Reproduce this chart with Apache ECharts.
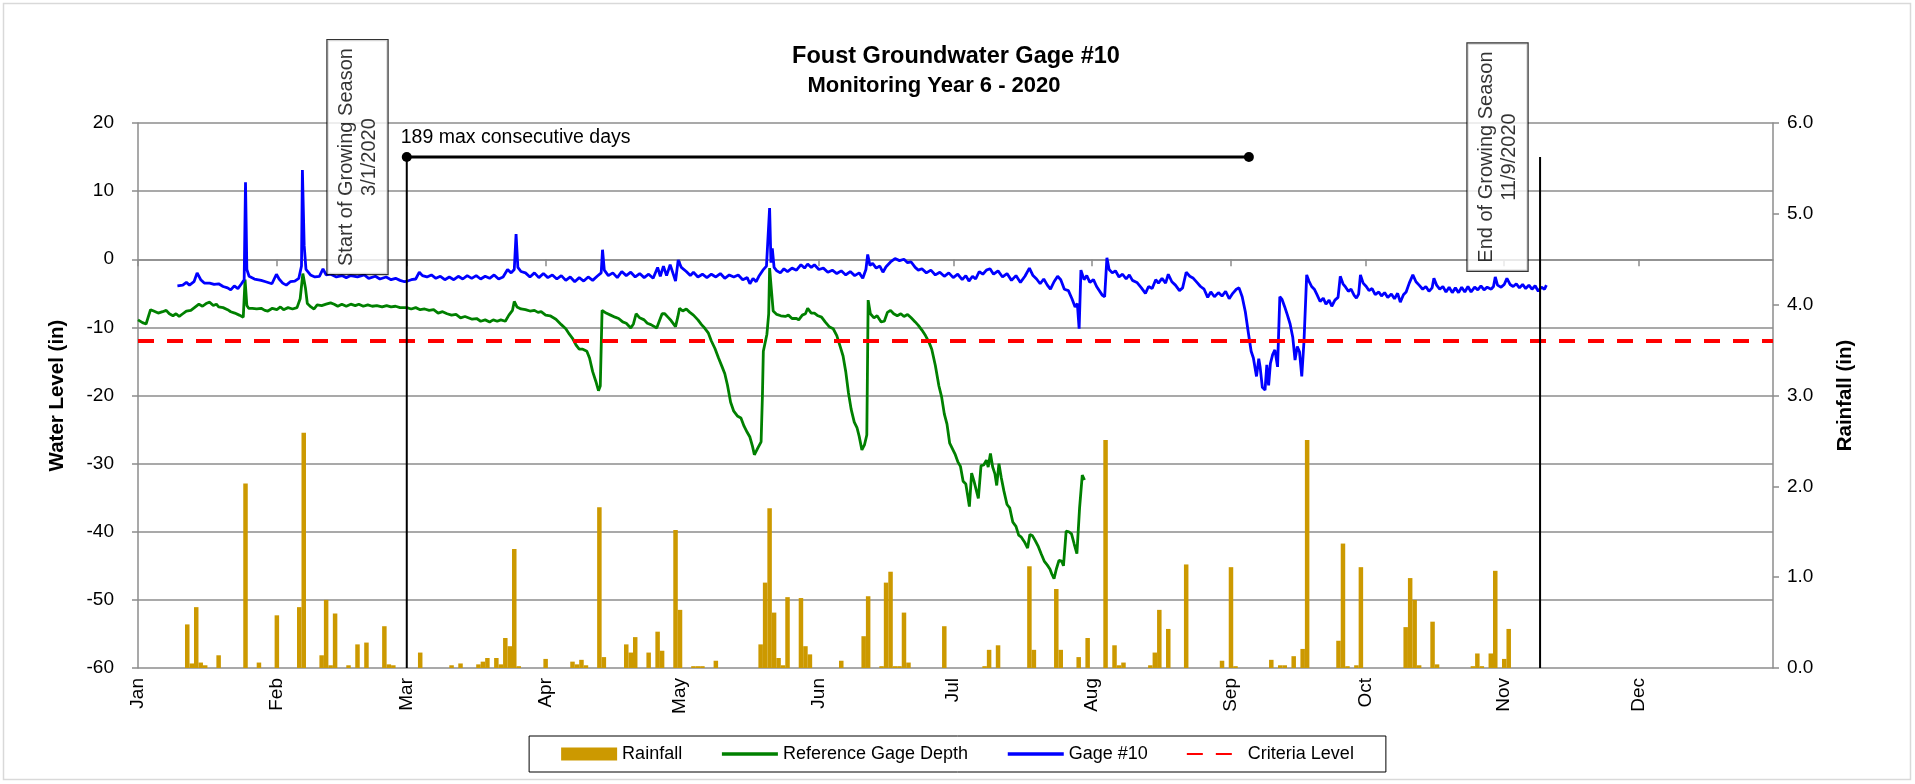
<!DOCTYPE html>
<html>
<head>
<meta charset="utf-8">
<title>Foust Groundwater Gage #10</title>
<script src="https://cdn.jsdelivr.net/npm/echarts@6/dist/echarts.min.js"></script>
<style>
  html, body { margin: 0; padding: 0; background: #fff; }
  #chart1 { width: 1915px; height: 784px; }
</style>
</head>
<body>
<div id="chart1"></div>
<script>
// x values are days counted from 1 Jan 2020 (= day 0), 2020 is a leap year
var monthLabels = ['Jan', 'Feb', 'Mar', 'Apr', 'May', 'Jun', 'Jul', 'Aug', 'Sep', 'Oct', 'Nov', 'Dec'];
var monthStartDays = [0, 31, 60, 91, 121, 152, 182, 213, 244, 274, 305, 335];

// daily rainfall (in)
var rainDays = [11, 12, 13, 14, 15, 18, 24, 27, 31, 36, 37, 41, 42, 43, 44, 47, 49, 51, 55, 56, 57,
  63, 70, 72, 76, 77, 78, 80, 81, 82, 83, 84, 85, 91, 97, 98, 99, 100, 103, 104, 109, 110, 111,
  114, 116, 117, 120, 121, 124, 125, 126, 129, 139, 140, 141, 142, 143, 144, 145, 148, 149, 150,
  157, 162, 163, 166, 167, 168, 169, 170, 171, 172, 180, 189, 190, 192, 199, 200, 205, 206, 210,
  212, 216, 218, 219, 220, 226, 227, 228, 230, 234, 242, 244, 245, 253, 255, 256, 258, 260, 261,
  268, 269, 270, 272, 273, 283, 284, 285, 286, 289, 290, 298, 299, 300, 302, 303, 305, 306];
var rainInches = [0.48, 0.05, 0.67, 0.06, 0.03, 0.14, 2.03, 0.06, 0.58, 0.67, 2.59, 0.14, 0.75, 0.03, 0.60, 0.03, 0.26, 0.28, 0.46, 0.04, 0.03,
  0.17, 0.03, 0.05, 0.04, 0.07, 0.11, 0.11, 0.04, 0.33, 0.24, 1.31, 0.02, 0.10, 0.07, 0.04, 0.09, 0.03, 1.77, 0.12, 0.26, 0.17, 0.34,
  0.17, 0.40, 0.19, 1.52, 0.64, 0.02, 0.02, 0.02, 0.08, 0.26, 0.94, 1.76, 0.61, 0.11, 0.03, 0.78, 0.77, 0.24, 0.15,
  0.08, 0.35, 0.79, 0.02, 0.94, 1.06, 0.02, 0.02, 0.61, 0.06, 0.46, 0.02, 0.20, 0.25, 1.12, 0.20, 0.87, 0.20, 0.12,
  0.33, 2.51, 0.25, 0.03, 0.06, 0.03, 0.17, 0.64, 0.43, 1.14, 0.08, 1.11, 0.02, 0.09, 0.03, 0.03, 0.13, 0.21, 2.51,
  0.30, 1.37, 0.02, 0.03, 1.11, 0.45, 0.99, 0.75, 0.03, 0.51, 0.04, 0.02, 0.16, 0.02, 0.16, 1.07, 0.10, 0.43];

// reference gage depth (in), [day, level]
var refReadings = [
  [0, -8.9], [1, -9.3], [1.8, -9.5], [2.8, -7.4], [3.5, -7.6], [4.5, -7.9], [5.5, -7.7], [6.3, -7.5], [7, -8.0],
  [7.8, -8.3], [8.5, -8.0], [9.2, -8.4], [10, -8.0], [10.8, -7.6], [11.8, -7.5], [12.6, -7.1], [13.6, -6.6],
  [14.4, -6.9], [15.2, -6.5], [16, -6.3], [16.8, -6.8], [17.5, -6.6], [18, -7.0], [19, -7.1], [20, -7.4],
  [20.7, -7.7], [21.6, -7.9], [22.6, -8.2], [23.5, -8.5], [23.9, -3.0], [24.3, -6.8], [24.7, -7.2], [25.5, -7.2],
  [26.5, -7.3], [27.5, -7.2], [28.3, -7.5], [29, -7.6], [30, -7.2], [31, -7.4], [31.8, -7.0], [32.5, -7.4],
  [33.5, -7.1], [34.5, -7.3], [35.5, -7.1], [36.2, -5.8], [36.8, -2.1], [37.4, -4.3], [37.8, -6.5], [38.6, -7.0],
  [39.3, -7.3], [40, -6.7], [41, -6.8], [42, -6.6], [43, -6.4], [43.8, -6.6], [44.6, -6.9], [45.5, -6.6],
  [46.5, -6.9], [47.5, -6.6], [48.5, -6.8], [49.3, -6.6], [50.3, -6.9], [51.3, -6.7], [52.3, -6.9], [53.3, -6.8],
  [54.5, -7.0], [55.5, -6.8], [56.5, -7.0], [57.5, -6.9], [58.5, -7.1], [60, -7.1], [61, -7.3], [62, -7.1],
  [63, -7.4], [64, -7.3], [65, -7.5], [66, -7.4], [67, -7.9], [68, -7.7], [69, -8.0], [70, -8.2], [71, -8.1],
  [72, -8.6], [73, -8.4], [74.6, -8.8], [75.6, -8.7], [76.5, -9.1], [77.5, -8.9], [78.5, -9.2], [79.3, -8.9],
  [80.2, -9.1], [81, -8.9], [82, -9.1], [82.8, -8.2], [83.6, -7.5], [84, -6.2], [84.6, -7.0], [85.5, -7.3],
  [86.5, -7.4], [87.5, -7.6], [88.5, -7.5], [89.3, -7.8], [90, -7.7], [91, -8.2], [92, -8.3], [93.3, -8.8],
  [94.5, -9.6], [95.5, -10.2], [96.3, -11.0], [97, -11.6], [97.8, -12.6], [98.5, -13.2], [99.3, -13.2],
  [100.2, -13.5], [100.8, -14.5], [101.5, -16.5], [102.2, -17.9], [102.8, -19.3], [103.2, -18.6], [103.6, -7.5],
  [104.5, -7.9], [105.5, -8.2], [106.5, -8.5], [107.3, -8.7], [108.2, -9.2], [109, -9.4], [110, -10.1],
  [110.6, -9.5], [111.2, -8.0], [112, -8.6], [113, -8.9], [113.7, -9.4], [114.5, -9.6], [115.8, -10.1],
  [116.3, -9.2], [117, -8.0], [117.6, -8.0], [118.3, -8.5], [119, -9.0], [120, -9.9], [120.5, -8.5],
  [120.9, -7.2], [121.6, -7.6], [122.4, -7.3], [123.2, -7.8], [124, -8.2], [125, -8.9], [125.8, -9.6],
  [126.5, -10.1], [127.3, -10.8], [128, -12.0], [128.8, -13.1], [129.6, -14.5], [130.4, -15.8], [131, -16.8],
  [131.6, -18.5], [132.3, -21.0], [133, -22.3], [133.8, -23.0], [134.6, -23.3], [135.3, -24.5], [136, -25.4],
  [136.6, -26.1], [137.2, -27.5], [137.6, -28.7], [138.3, -27.8], [139.1, -26.8], [139.4, -20.0], [139.6, -13.5],
  [140.4, -11.0], [140.8, -8.0], [141, -1.3], [141.4, -4.5], [141.8, -7.6], [142.6, -8.1], [143.5, -8.3],
  [144.5, -8.4], [145.2, -8.2], [146, -8.7], [147, -8.7], [147.5, -8.9], [148.3, -8.2], [149, -8.0],
  [149.5, -7.2], [150.3, -7.9], [151, -7.9], [151.8, -8.3], [152.6, -8.5], [153.4, -9.2], [154.3, -9.9],
  [155.2, -10.2], [156, -11.2], [156.8, -12.9], [157.4, -14.2], [158, -16.5], [158.6, -19.6], [159.2, -22.0],
  [159.9, -23.9], [160.5, -24.7], [161, -26.0], [161.6, -28.0], [162.2, -27.2], [162.7, -25.8], [163, -6.0],
  [163.5, -8.0], [164.3, -8.6], [165, -8.3], [165.9, -9.2], [166.6, -9.1], [167.3, -7.8], [168, -7.5],
  [168.7, -8.0], [169.5, -8.3], [170.3, -8.0], [171, -8.4], [171.8, -8.1], [172.6, -8.6], [173.5, -9.2],
  [174.2, -9.7], [175, -10.4], [175.8, -11.2], [176.6, -12.2], [177.2, -13.2], [178, -15.6], [178.8, -18.6],
  [179.4, -20.2], [180, -22.7], [180.6, -24.2], [181.2, -27.0], [181.8, -27.8], [182.4, -28.6], [183, -29.7],
  [183.6, -30.4], [184.2, -32.6], [184.8, -33.0], [185.2, -34.6], [185.6, -36.3], [186.1, -31.4], [186.6, -32.5],
  [187, -32.4], [187.6, -35.1], [188.2, -30.3], [188.8, -30.2], [189.4, -29.5], [189.8, -30.5], [190.3, -28.5],
  [190.8, -30.5], [191.3, -31.5], [191.7, -33.2], [192.2, -30.0], [192.7, -32.0], [193.3, -34.0], [194, -36.0],
  [194.6, -36.5], [195.3, -38.6], [196, -39.2], [196.6, -40.5], [197.2, -40.8], [197.9, -41.5], [198.6, -42.4],
  [199.1, -40.4], [199.7, -40.6], [200.3, -41.3], [201, -42.2], [201.6, -43.2], [202.3, -44.3], [203, -44.9],
  [203.6, -45.5], [204, -46.2], [204.5, -46.9], [205, -45.5], [205.6, -44.2], [206.2, -44.3], [206.6, -45.0],
  [207.2, -39.9], [207.8, -40.0], [208.4, -40.3], [209, -41.8], [209.6, -43.2], [210.2, -36.5], [210.8, -31.7],
  [211.3, -32.4]
];

// Gage #10 water level (in), [day, level]
var gageReadings = [
  [8.8, -3.9], [10, -3.8], [10.8, -3.4], [11.5, -3.8], [12.5, -3.3], [13.2, -2.0], [14, -3.0], [14.8, -3.5],
  [16, -3.5], [17, -3.7], [18, -3.6], [19, -4.0], [20, -4.2], [20.7, -4.5], [21.5, -3.9], [22.3, -4.3],
  [23.1, -3.6], [23.7, -3.0], [24, 11.3], [24.3, -1.5], [24.8, -2.5], [26, -2.9], [27.5, -3.1], [28.5, -3.3],
  [29.9, -3.6], [30.9, -2.2], [31.5, -2.9], [32.3, -3.5], [33.1, -3.8], [34, -3.3], [35, -3.2], [35.9, -2.8],
  [36.5, -1.0], [36.7, 13.1], [37.1, 2.0], [37.5, -1.5], [38.5, -2.3], [39.5, -2.6], [40.5, -2.5], [41.3, -1.4],
  [42, -2.3], [43, -2.2], [44.3, -2.6], [45.5, -2.4], [46.5, -2.7], [47.5, -2.4], [49, -2.6], [50.5, -2.3],
  [51.5, -2.8], [53, -2.5], [54, -2.9], [55.4, -2.6], [56.5, -3.0], [57.5, -2.8], [58.5, -3.1], [59.5, -3.3],
  [60.2, -3.2], [61, -3.0], [62, -2.9], [62.8, -1.9], [63.5, -2.4], [64.5, -2.6], [65.5, -2.3], [66.5, -2.8],
  [67.5, -2.5], [68.5, -3.0], [69.5, -2.6], [70.5, -3.0], [71.5, -2.5], [72.5, -2.9], [73.5, -2.4], [74.5, -2.8],
  [75.5, -2.4], [76.5, -2.9], [77.5, -2.5], [78.5, -2.8], [79.5, -2.3], [80.5, -2.9], [81.5, -2.6], [82.5, -1.5],
  [83.3, -2.0], [84, -1.5], [84.4, 3.7], [84.8, -1.2], [85.5, -1.8], [86.5, -2.0], [87.5, -2.6], [88.5, -2.0],
  [89.5, -2.7], [90.5, -2.1], [91.5, -2.7], [92.5, -2.3], [93.5, -2.9], [94.5, -2.4], [95.5, -3.1], [96.5, -2.6],
  [97.5, -3.3], [98.5, -2.7], [99.5, -3.2], [100.5, -2.6], [101.5, -3.1], [102.5, -2.5], [103.4, -2.0],
  [103.7, 1.4], [104.1, -1.6], [105, -2.4], [106, -2.0], [107, -2.7], [108, -1.8], [109, -2.4], [110, -1.9],
  [111, -2.6], [112, -2.1], [113, -2.7], [114, -2.2], [115, -2.8], [116, -1.2], [116.6, -2.5], [117.3, -1.0],
  [118, -2.4], [118.8, -0.8], [119.4, -2.0], [120, -3.2], [120.6, -0.1], [121.3, -1.2], [122.4, -1.8],
  [123.3, -2.4], [124, -1.9], [125, -2.6], [126, -2.2], [127, -2.7], [128, -2.2], [129, -2.6], [130, -2.1],
  [131, -2.8], [132, -2.3], [133, -2.6], [134, -2.3], [135, -3.0], [136, -2.7], [136.6, -3.6], [137.3, -2.8],
  [138, -3.3], [138.6, -2.5], [139.5, -1.6], [140.3, -1.0], [141, 7.5], [141.3, -0.5], [141.6, 1.6], [142, -1.2],
  [142.6, -1.7], [143.4, -2.0], [144.2, -1.4], [145, -1.8], [146, -1.3], [147, -1.6], [148, -0.8], [148.8, -1.3],
  [149.5, -0.7], [150.3, -1.2], [151, -0.8], [152, -1.5], [153, -1.3], [154, -1.9], [155, -1.6], [156, -2.1],
  [157, -1.7], [158, -2.3], [159, -1.8], [160, -2.4], [161, -2.0], [161.8, -2.8], [162.5, -1.5], [162.9, 0.7],
  [163.4, -0.9], [164, -0.6], [164.8, -1.3], [165.6, -1.0], [166.3, -1.9], [167, -1.1], [168, -0.4], [169, 0.1],
  [170, -0.2], [171, 0.0], [171.8, -0.5], [172.6, -0.4], [173.5, -1.2], [174.2, -1.6], [175, -1.4], [176, -2.0],
  [177, -1.6], [178, -2.3], [179, -1.9], [180, -2.5], [181, -2.0], [182, -2.7], [183, -2.2], [184, -3.0],
  [184.8, -2.4], [185.5, -3.2], [186.3, -2.5], [187, -2.9], [187.8, -1.8], [188.6, -2.2], [189.4, -1.6],
  [190.2, -1.4], [191, -2.2], [192, -1.7], [193, -2.6], [194, -2.1], [195, -3.1], [196, -2.4], [197, -3.4],
  [198, -2.5], [199, -1.3], [199.8, -2.4], [200.6, -2.9], [201.4, -3.6], [202.2, -2.9], [203, -3.8],
  [203.7, -4.4], [204.5, -3.3], [205.3, -2.5], [206, -3.0], [206.8, -4.4], [207.7, -4.6], [208.5, -5.8],
  [209.2, -7.0], [209.7, -6.5], [210.1, -10.2], [210.5, -1.6], [211.2, -3.0], [211.8, -2.4], [212.5, -3.4],
  [213.3, -3.0], [214, -4.0], [215.3, -5.3], [215.8, -5.5], [216.3, 0.2], [216.8, -1.5], [217.5, -2.0],
  [218.2, -1.7], [219, -2.6], [219.8, -2.2], [220.6, -2.9], [221.3, -2.3], [222, -3.1], [223, -3.4], [224, -4.2],
  [224.9, -5.0], [225.6, -4.0], [226.4, -4.3], [227.2, -3.0], [227.8, -3.5], [228.6, -2.8], [229.4, -3.5],
  [230, -2.2], [230.8, -3.3], [231.6, -3.8], [232.5, -4.6], [233.2, -4.2], [234, -1.9], [234.8, -2.5],
  [235.6, -2.8], [236.4, -3.4], [237.2, -4.0], [238, -4.4], [238.8, -5.6], [239.5, -4.8], [240.3, -5.5],
  [241.2, -4.9], [242, -5.4], [242.8, -4.7], [243.6, -5.8], [244.4, -5.0], [245.2, -4.4], [245.8, -4.2],
  [246.5, -5.5], [247.2, -7.7], [247.9, -10.9], [248.5, -13.5], [249, -14.5], [249.7, -17.2], [250.2, -14.6],
  [250.5, -15.8], [251, -18.8], [251.6, -19.2], [252, -15.5], [252.4, -18.5], [252.8, -15.3], [253.3, -14.0],
  [253.8, -13.3], [254.4, -15.8], [254.9, -5.5], [255.4, -5.9], [256, -7.0], [256.6, -8.2], [257.2, -9.5],
  [257.8, -11.5], [258.3, -14.8], [258.8, -12.8], [259.3, -13.6], [259.8, -17.2], [260.3, -12.0], [260.9, -2.3],
  [261.4, -3.2], [262, -4.0], [262.6, -4.4], [263.2, -5.2], [263.9, -6.2], [264.6, -5.7], [265.2, -6.6],
  [265.9, -6.0], [266.5, -6.9], [267.2, -6.0], [267.9, -5.6], [268.4, -2.5], [269, -3.6], [269.6, -4.1],
  [270.2, -4.7], [270.8, -4.4], [271.5, -5.3], [272, -5.7], [272.5, -5.1], [272.9, -2.3], [273.5, -3.5],
  [274.2, -4.0], [274.8, -4.6], [275.5, -4.3], [276.2, -5.2], [277, -4.8], [277.6, -5.4], [278.3, -4.9],
  [279, -5.6], [279.8, -5.1], [280.5, -5.8], [281.2, -5.0], [281.8, -6.3], [282.5, -5.2], [283.1, -4.8],
  [283.8, -3.5], [284.6, -2.3], [285.3, -3.3], [286, -3.8], [286.8, -4.4], [287.5, -4.0], [288.2, -4.7],
  [288.9, -4.2], [289.3, -2.8], [289.9, -3.8], [290.6, -4.4], [291.3, -4.0], [292, -4.8], [292.7, -4.1],
  [293.4, -4.9], [294.1, -4.2], [294.8, -4.9], [295.5, -4.1], [296.2, -4.8], [296.9, -4.0], [297.6, -4.8],
  [298.4, -4.1], [299.1, -4.5], [299.8, -3.9], [300.5, -4.5], [301.2, -4.1], [302.1, -4.4], [302.6, -4.0],
  [303, -2.6], [303.5, -3.8], [304.3, -4.1], [305, -3.7], [305.6, -2.8], [306.3, -3.7], [307, -4.0],
  [307.7, -3.6], [308.4, -4.2], [309.1, -3.7], [309.8, -4.3], [310.5, -3.8], [311.2, -4.4], [311.9, -3.9],
  [312.6, -4.7], [313.3, -4.1], [314, -4.4], [314.4, -3.8]
];

var criteriaLevel = -12;
var seasonStartDay = 60;   // 3/1/2020
var seasonEndDay = 313;    // 11/9/2020
var maxConsecutiveDays = 189;
var markerLevel = 15;

var axisGray = '#8c8c8c';
var fontFamily = "'Liberation Sans', Arial, sans-serif";

var chartDom = document.getElementById('chart1');
var myChart = echarts.init(chartDom);
var option;

var rainData = rainDays.map(function (d, i) { return [d, rainInches[i]]; });
var spanEndDay = seasonStartDay + maxConsecutiveDays - 1;

// line legend entries: show the stroke only, no marker dot
var hideDot = { opacity: 0 };

option = {
  animation: false,
  backgroundColor: '#fff',
  textStyle: { fontFamily: fontFamily, color: '#000' },
  title: [
    {
      text: 'Foust Groundwater Gage #10',
      left: 951, top: 40, textAlign: 'center',
      textStyle: { fontFamily: fontFamily, fontSize: 23.5, fontWeight: 'bold', color: '#000' }
    },
    {
      text: 'Monitoring Year 6 - 2020',
      left: 929, top: 70, textAlign: 'center',
      textStyle: { fontFamily: fontFamily, fontSize: 22, fontWeight: 'bold', color: '#000' }
    }
  ],
  graphic: [
    {
      type: 'rect', silent: true, z: -10,
      shape: { x: 3.5, y: 3.5, width: 1907, height: 776 },
      style: { fill: 'none', stroke: '#d9d9d9', lineWidth: 1.5 }
    }
  ],
  grid: { left: 138, right: 142, top: 123, bottom: 116 },
  legend: {
    bottom: 12,
    left: 'center',
    data: [
      { name: 'Rainfall', icon: 'rect' },
      { name: 'Reference Gage Depth', itemStyle: hideDot, lineStyle: { width: 3.5 } },
      { name: 'Gage #10', itemStyle: hideDot, lineStyle: { width: 3.5 } },
      { name: 'Criteria Level', itemStyle: hideDot }
    ],
    itemWidth: 56,
    itemHeight: 13,
    itemGap: 38,
    borderColor: '#000',
    borderWidth: 1,
    padding: [9, 32],
    textStyle: { fontFamily: fontFamily, fontSize: 18, color: '#000' }
  },
  xAxis: {
    type: 'value',
    min: 0,
    max: 365,
    axisLine: { lineStyle: { color: axisGray, width: 1.5 } },
    axisTick: { customValues: monthStartDays, length: 7, lineStyle: { color: axisGray, width: 1.5 } },
    axisLabel: {
      customValues: monthStartDays,
      rotate: 90,
      margin: 10,
      fontSize: 19,
      color: '#000',
      formatter: function (v) { return monthLabels[monthStartDays.indexOf(v)] || ''; }
    },
    splitLine: { show: false }
  },
  yAxis: [
    {
      type: 'value',
      min: -60,
      max: 20,
      interval: 10,
      name: 'Water Level (in)',
      nameLocation: 'middle',
      nameGap: 70,
      nameTextStyle: { fontFamily: fontFamily, fontSize: 20.5, fontWeight: 'bold', color: '#000' },
      axisLine: { show: true, lineStyle: { color: axisGray, width: 1.5 } },
      axisTick: { show: true, length: 6, lineStyle: { color: axisGray, width: 1.5 } },
      axisLabel: { fontSize: 19, color: '#000', margin: 24 },
      splitLine: { lineStyle: { color: axisGray, width: 1.5 } }
    },
    {
      type: 'value',
      min: 0,
      max: 6,
      interval: 1,
      position: 'right',
      name: 'Rainfall (in)',
      nameLocation: 'middle',
      nameRotate: 90,
      nameGap: 62,
      nameTextStyle: { fontFamily: fontFamily, fontSize: 20.5, fontWeight: 'bold', color: '#000' },
      axisLine: { show: true, lineStyle: { color: axisGray, width: 1.5 } },
      axisTick: { show: true, length: 6, lineStyle: { color: axisGray, width: 1.5 } },
      axisLabel: {
        fontSize: 19, color: '#000', margin: 14,
        formatter: function (v) { return v.toFixed(1); }
      },
      splitLine: { show: false }
    }
  ],
  series: [
    {
      name: 'Rainfall',
      type: 'bar',
      yAxisIndex: 1,
      barWidth: 4.5,
      itemStyle: { color: '#CC9900' },
      data: rainData
    },
    {
      name: 'Reference Gage Depth',
      type: 'line',
      symbol: 'none',
      color: '#008000',
      lineStyle: { color: '#008000', width: 2.8 },
      data: refReadings
    },
    {
      name: 'Gage #10',
      type: 'line',
      symbol: 'none',
      color: '#0000FF',
      lineStyle: { color: '#0000FF', width: 2.8 },
      data: gageReadings
    },
    {
      name: 'Criteria Level',
      type: 'line',
      symbol: 'none',
      color: '#FF0000',
      lineStyle: { color: '#FF0000', width: 4, type: [16, 13] },
      data: [[0, criteriaLevel], [365, criteriaLevel]]
    },
    {
      name: 'season start',
      type: 'line',
      symbol: 'none',
      silent: true,
      lineStyle: { color: '#000', width: 2 },
      data: [[seasonStartDay, -60], [seasonStartDay, markerLevel]]
    },
    {
      name: 'season end',
      type: 'line',
      symbol: 'none',
      silent: true,
      lineStyle: { color: '#000', width: 2 },
      data: [[seasonEndDay, -60], [seasonEndDay, markerLevel]]
    },
    {
      name: 'consecutive days',
      type: 'line',
      symbol: 'circle',
      symbolSize: 10,
      silent: true,
      itemStyle: { color: '#000' },
      lineStyle: { color: '#000', width: 3 },
      data: [
        {
          value: [seasonStartDay, markerLevel],
          label: {
            show: true,
            formatter: maxConsecutiveDays + ' max consecutive days',
            position: 'top',
            align: 'left',
            distance: 4,
            offset: [-6, 0],
            fontFamily: fontFamily,
            fontSize: 19.5,
            color: '#000'
          }
        },
        [spanEndDay, markerLevel]
      ]
    },
    {
      name: 'season notes',
      type: 'scatter',
      symbolSize: 1,
      silent: true,
      z: 5,
      itemStyle: { color: 'rgba(0,0,0,0)' },
      label: {
        show: true,
        position: 'inside',
        rotate: 90,
        align: 'center',
        verticalAlign: 'middle',
        backgroundColor: '#fff',
        borderColor: '#000',
        borderWidth: 1.2,
        padding: [7, 8],
        fontFamily: fontFamily,
        fontSize: 20,
        lineHeight: 23,
        color: '#000'
      },
      data: [
        { value: [seasonStartDay - 11, markerLevel], label: { formatter: 'Start of Growing Season\n3/1/2020' } },
        { value: [seasonEndDay - 9.5, markerLevel], label: { formatter: 'End of Growing Season\n11/9/2020' } }
      ]
    }
  ]
};

option && myChart.setOption(option);
window.onresize = function () {
  myChart.resize();
};
</script>
</body>
</html>
